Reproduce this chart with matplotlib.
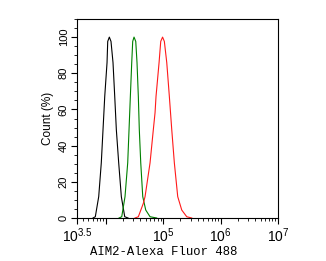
import matplotlib
matplotlib.use("Agg")
import matplotlib.pyplot as plt
from matplotlib.ticker import FixedLocator, FixedFormatter, NullFormatter
import numpy as np

# log10 fluorescence and count (%)
black_logx = [3.779, 3.819, 3.878, 3.923, 3.953, 3.983, 4.023, 4.035, 4.063, 4.092, 4.127, 4.157, 4.185, 4.226, 4.272, 4.331, 4.389]
black_cnt  = [0, 0.7, 11.8, 30.5, 48.8, 67.2, 85.9, 97.6, 100, 97.6, 85.9, 67.2, 48.8, 30.5, 11.8, 0.7, 0]

green_logx = [4.232, 4.279, 4.336, 4.383, 4.406, 4.429, 4.453, 4.470, 4.493, 4.523, 4.545, 4.568, 4.585, 4.610, 4.645, 4.697, 4.772, 4.888]
green_cnt  = [0, 0.7, 11.8, 30.5, 48.8, 67.2, 85.9, 97.6, 100, 97.6, 85.9, 67.2, 48.8, 30.5, 11.8, 4.4, 0.7, 0]

red_logx = [4.510, 4.568, 4.655, 4.685, 4.772, 4.829, 4.859, 4.876, 4.929, 4.958, 4.990, 5.021, 5.063, 5.108, 5.150, 5.195, 5.254, 5.324, 5.411, 5.498]
red_cnt  = [0, 0.7, 8.1, 11.8, 30.5, 48.8, 58.2, 67.2, 85.9, 97.6, 100, 97.6, 85.9, 67.2, 48.8, 30.5, 11.8, 4.4, 0.7, 0]

xtick_exp = [3.5, 4, 5, 6, 7]
xtick_labels = ["$10^{3.5}$", "", "$10^{5}$", "$10^{6}$", "$10^{7}$"]
ytick_vals = [0, 20, 40, 60, 80, 100]

plt.rcParams['mathtext.fontset'] = 'custom'
plt.rcParams['mathtext.rm'] = 'Liberation Sans'
plt.rcParams['mathtext.it'] = 'Liberation Sans'
plt.rcParams['font.family'] = 'Liberation Sans'

fig = plt.figure(figsize=(3.26, 2.61), dpi=100)
ax = fig.add_axes([77/326, 1-218/261, 201/326, 199/261])

ax.plot(10**np.array(black_logx), black_cnt, color='black', lw=0.8)
ax.plot(10**np.array(green_logx), green_cnt, color='#008000', lw=0.8)
ax.plot(10**np.array(red_logx), red_cnt, color='#ff1a1a', lw=0.8)

ax.set_xscale('log')
ax.set_xlim(10**3.5, 10**7)
ax.set_ylim(0, 110)

ax.xaxis.set_major_locator(FixedLocator([10**e for e in xtick_exp]))
ax.xaxis.set_major_formatter(FixedFormatter(xtick_labels))
minors = [m*10**d for d in range(3, 7) for m in range(2, 10) if 10**3.5 < m*10**d < 10**7]
ax.xaxis.set_minor_locator(FixedLocator(minors))
ax.xaxis.set_minor_formatter(NullFormatter())

ax.set_yticks(ytick_vals)
ax.set_yticks(np.arange(0, 111, 5), minor=True)
for lab in ax.get_yticklabels():
    lab.set_rotation(90)
    lab.set_va('center')

ax.tick_params(axis='both', which='major', direction='out', length=4, width=0.8)
ax.tick_params(axis='y', which='major', labelsize=8, pad=2)
ax.tick_params(axis='x', which='major', labelsize=10, pad=2)
ax.tick_params(axis='both', which='minor', direction='out', length=2, width=0.6)

for s in ax.spines.values():
    s.set_linewidth(0.8)

ax.set_ylabel("Count (%)", fontsize=8.5)
ax.yaxis.set_label_coords(-0.115, 0.5)
ax.set_xlabel("AIM2-Alexa Fluor 488", fontsize=8.8, family='Liberation Mono')
ax.xaxis.set_label_coords(0.43, -0.14)

fig.savefig("out.png", dpi=100)
